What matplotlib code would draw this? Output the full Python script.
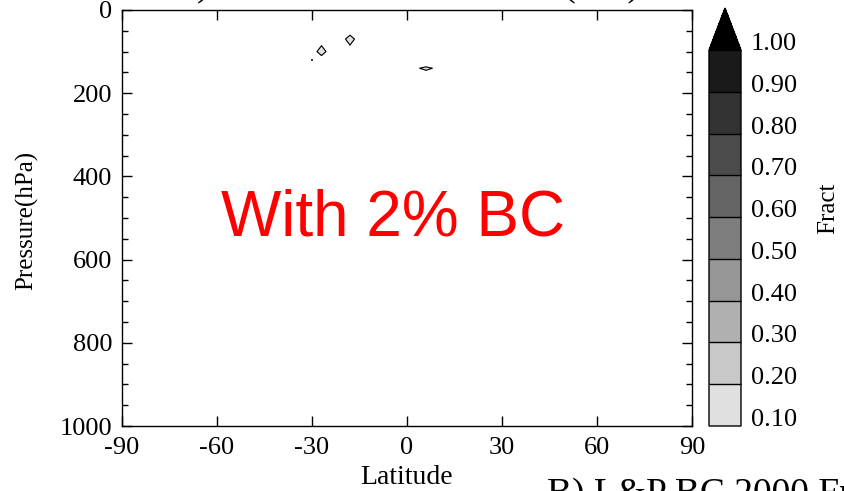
import matplotlib
matplotlib.use('Agg')
import matplotlib.pyplot as plt
import numpy as np
from matplotlib.ticker import MultipleLocator

plt.rcParams['font.family'] = 'Liberation Serif'
plt.rcParams['axes.unicode_minus'] = False

# lat / pressure grid of the zonal mean field
lat = np.arange(-90, 90.1, 3.0)
plev = [10, 20, 30, 50, 70, 100, 120, 140, 170, 200, 250, 300, 350, 400, 450, 500,
        550, 600, 650, 700, 750, 800, 850, 900, 925, 950, 975, 1000]

# the only grid points where the fraction is non-zero
spot_lat = [-18, -27, -30, 3, 6, 9]
spot_p = [70, 100, 120, 140, 140, 140]
spot_val = [0.19, 0.19, 0.105, 0.09, 0.12, 0.09]

levels = [0.1, 0.2, 0.3, 0.4, 0.5, 0.6, 0.7, 0.8, 0.9, 1.0]
shades = ['#e0e0e0', '#c8c8c8', '#b0b0b0', '#969696', '#7d7d7d',
          '#646464', '#4b4b4b', '#323232', '#1a1a1a', '#000000']

field = np.zeros((len(plev), len(lat)))
for la, p, v in zip(spot_lat, spot_p, spot_val):
  field[plev.index(p), np.argmin(np.abs(lat - la))] = v

fig = plt.figure(figsize=(8.44, 4.91), dpi=100)
ax = fig.add_axes([122 / 844, 65 / 491, 570 / 844, 416 / 491])

cf = ax.contourf(lat, plev, field, levels=levels, colors=shades, extend='max')
ax.contour(lat, plev, field, levels=levels, colors='k', linewidths=0.8)

ax.set_xlim(-90, 90)
ax.set_ylim(1000, 0)
ax.set_xticks([-90, -60, -30, 0, 30, 60, 90])
ax.set_yticks([0, 200, 400, 600, 800, 1000])
ax.yaxis.set_minor_locator(MultipleLocator(50))
ax.tick_params(which='both', direction='in', top=True, right=True, width=1, labelsize=19)
ax.tick_params(which='major', length=7)
ax.tick_params(which='minor', length=4.3)
ax.tick_params(axis='x', pad=8)
ax.tick_params(axis='y', pad=7)
for s in ax.spines.values():
  s.set_linewidth(1)

ax.text(0.5 - 14 / 570, 0.5, 'With 2% BC', transform=ax.transAxes, color='red',
        fontsize=46, family='Liberation Sans', ha='center', va='center')

fig.text(407 / 844, 1 - 478 / 491, 'Latitude', fontsize=20, ha='center', va='center')
fig.text(27 / 844, 1 - 220 / 491, 'Pressure(hPa)', fontsize=18, rotation=90,
         ha='center', va='center')

# colour bar with the over-range triangle on top
cax = fig.add_axes([709 / 844, 65 / 491, 32 / 844, 418 / 491])
cb = fig.colorbar(cf, cax=cax, extend='max', extendfrac=0.112, drawedges=True, ticks=levels)
cb.ax.set_yticklabels(['%.2f' % l for l in levels])
cb.ax.tick_params(length=0, labelsize=19, pad=7)
for lab in cb.ax.get_yticklabels():
  lab.set_va('baseline')
cb.outline.set_linewidth(1)
cb.dividers.set_linewidth(1)
fig.text(828 / 844, 1 - 208 / 491, 'Fract', fontsize=18, rotation=90,
         ha='center', va='center')

# panel titles cut by the frame
fig.text(405 / 844, 1 + 5 / 491, 'A) L&P BC 2000 Fraction (ann)', fontsize=26,
         ha='center', va='baseline')
fig.text(547 / 844, -13 / 491, 'B) L&P BC 2000 Fraction (ann)', fontsize=27,
         ha='left', va='baseline')

fig.savefig('out.png', dpi=100)
